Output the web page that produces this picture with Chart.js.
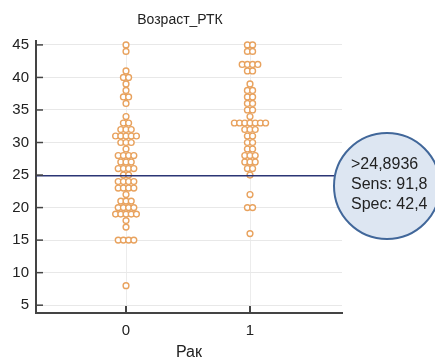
<!DOCTYPE html>
<html>
<head>
<meta charset="utf-8">
<script src="https://cdn.jsdelivr.net/npm/chart.js@4.4.1/dist/chart.umd.min.js"></script>
<style>
  html, body { margin: 0; padding: 0; background: #fff; overflow: hidden; }
  #wrap { position: relative; width: 435px; height: 362px; }
  #title {
    position: absolute; left: 0; top: 10px; width: 360px; text-align: center;
    font: 14px "Liberation Sans", Arial, sans-serif; line-height: 18px; color: #222;
  }
  #bubble {
    position: absolute; left: 333px; top: 132px; width: 104px; height: 104px;
    border: 2px solid #41679a; border-radius: 50%; background: #dde6f2;
    box-sizing: content-box;
    font: 16px "Liberation Sans", Arial, sans-serif; line-height: 20px; color: #222;
  }
  #bubble div { position: absolute; left: 16px; top: 20px; white-space: nowrap; }
</style>
</head>
<body>
<div id="wrap">
  <canvas id="chart" width="435" height="362"></canvas>
  <div id="title"></div>
  <div id="bubble"><div id="bubbleText"></div></div>
</div>
<script>
/* ---------------- DATA ---------------- */

const chartTitle = "Возраст_РТК";
const xTitle = "Рак";

const groups = [0, 1];
const groupLabels = ["0", "1"];
const yTicks = [5, 10, 15, 20, 25, 30, 35, 40, 45];

// Рак = 0 (66 obs)
const ageRak0 = [
  45, 44, 41, 40, 40, 39, 38, 37, 37, 36,
  34, 33, 33, 32, 32, 32, 31, 31, 31, 31, 31,
  30, 30, 30, 29, 28, 28, 28, 28, 27, 27, 27,
  26, 26, 26, 26, 25, 25,
  24, 24, 24, 24, 23, 23, 23, 23, 22, 21, 21, 21,
  20, 20, 20, 20, 19, 19, 19, 19, 19, 18, 17,
  15, 15, 15, 15, 8
];

// Рак = 1 (49 obs)
const ageRak1 = [
  45, 45, 44, 44, 42, 42, 42, 42, 41, 41,
  39, 38, 38, 37, 37, 36, 36, 35, 35, 34,
  33, 33, 33, 33, 33, 33, 33, 32, 32, 32,
  31, 31, 30, 30, 29, 29, 28, 28, 28,
  27, 27, 27, 26, 26, 25,
  22, 20, 20, 16
];

const cutoff = 24.8936;
const cutoffLabel = ">24,8936";
const sensText = "91,8";
const specText = "42,4";

/* ---------------- LAYOUT HELPERS ---------------- */

// horizontal gap between equal values, in x units (~5px)
const dotStep = 0.042;

function dotPoints(values, center) {
  const counts = {};
  values.forEach(v => counts[v] = (counts[v] || 0) + 1);
  const used = {};
  return values.map(v => {
    const n = counts[v];
    const i = used[v] || 0;
    used[v] = i + 1;
    return { x: center + (i - (n - 1) / 2) * dotStep, y: v };
  });
}

/* ---------------- PLUGINS ---------------- */

const inwardTicks = {
  id: "inwardTicks",
  afterDraw(chart) {
    const { ctx, chartArea, scales } = chart;
    ctx.save();
    ctx.strokeStyle = "#444";
    ctx.lineWidth = 1.5;
    yTicks.forEach(v => {
      const y = scales.y.getPixelForValue(v);
      ctx.beginPath();
      ctx.moveTo(chartArea.left, y);
      ctx.lineTo(chartArea.left + 7, y);
      ctx.stroke();
    });
    ctx.lineWidth = 2;
    groups.forEach(g => {
      const x = scales.x.getPixelForValue(g);
      ctx.beginPath();
      ctx.moveTo(x, chartArea.bottom);
      ctx.lineTo(x, chartArea.bottom - 7);
      ctx.stroke();
    });
    ctx.restore();
  }
};

const cutoffLine = {
  id: "cutoffLine",
  afterDatasetsDraw(chart) {
    const { ctx, chartArea, scales } = chart;
    const y = scales.y.getPixelForValue(cutoff);
    ctx.save();
    ctx.strokeStyle = "#2b3575";
    ctx.lineWidth = 1.6;
    ctx.beginPath();
    ctx.moveTo(chartArea.left, y);
    ctx.lineTo(chartArea.right, y);
    ctx.stroke();
    ctx.restore();
  }
};

/* ---------------- CHART ---------------- */

document.getElementById("title").textContent = chartTitle;
document.getElementById("bubbleText").innerHTML =
  cutoffLabel + "<br>Sens: " + sensText + "<br>Spec: " + specText;

const tickFont = { family: "'Liberation Sans', Arial, sans-serif", size: 15 };
const titleFont = { family: "'Liberation Sans', Arial, sans-serif", size: 16 };

new Chart(document.getElementById("chart"), {
  type: "scatter",
  data: {
    datasets: [
      { data: dotPoints(ageRak0, groups[0]) },
      { data: dotPoints(ageRak1, groups[1]) }
    ]
  },
  options: {
    responsive: false,
    animation: false,
    layout: { padding: { top: 41, right: 93, bottom: 0, left: 0 } },
    elements: {
      point: {
        radius: 2.9,
        borderWidth: 1.4,
        borderColor: "#e8a25e",
        backgroundColor: "#ffffff"
      }
    },
    plugins: {
      legend: { display: false },
      tooltip: { enabled: false },
      title: { display: false }
    },
    scales: {
      x: {
        type: "linear",
        min: -0.726,
        max: 1.742,
        afterFit(scale) { scale.height = 49; },
        afterBuildTicks(scale) { scale.ticks = groups.map(v => ({ value: v })); },
        ticks: {
          padding: 9,
          color: "#222",
          font: tickFont,
          callback: (v) => groupLabels[groups.indexOf(v)]
        },
        grid: { color: "#ececec", lineWidth: 1, drawTicks: false },
        border: { display: true, color: "#444", width: 2 },
        title: {
          display: true, text: xTitle, color: "#222", font: titleFont,
          padding: { top: 0, bottom: 0 }
        }
      },
      y: {
        min: 3.8,
        max: 45.6,
        afterFit(scale) { scale.width = 36; },
        afterBuildTicks(scale) { scale.ticks = yTicks.map(v => ({ value: v })); },
        ticks: { padding: 7, color: "#222", font: tickFont },
        grid: { color: "#e8e8e8", lineWidth: 1, drawTicks: false },
        border: { display: true, color: "#444", width: 2 }
      }
    }
  },
  plugins: [inwardTicks, cutoffLine]
});
</script>
</body>
</html>
